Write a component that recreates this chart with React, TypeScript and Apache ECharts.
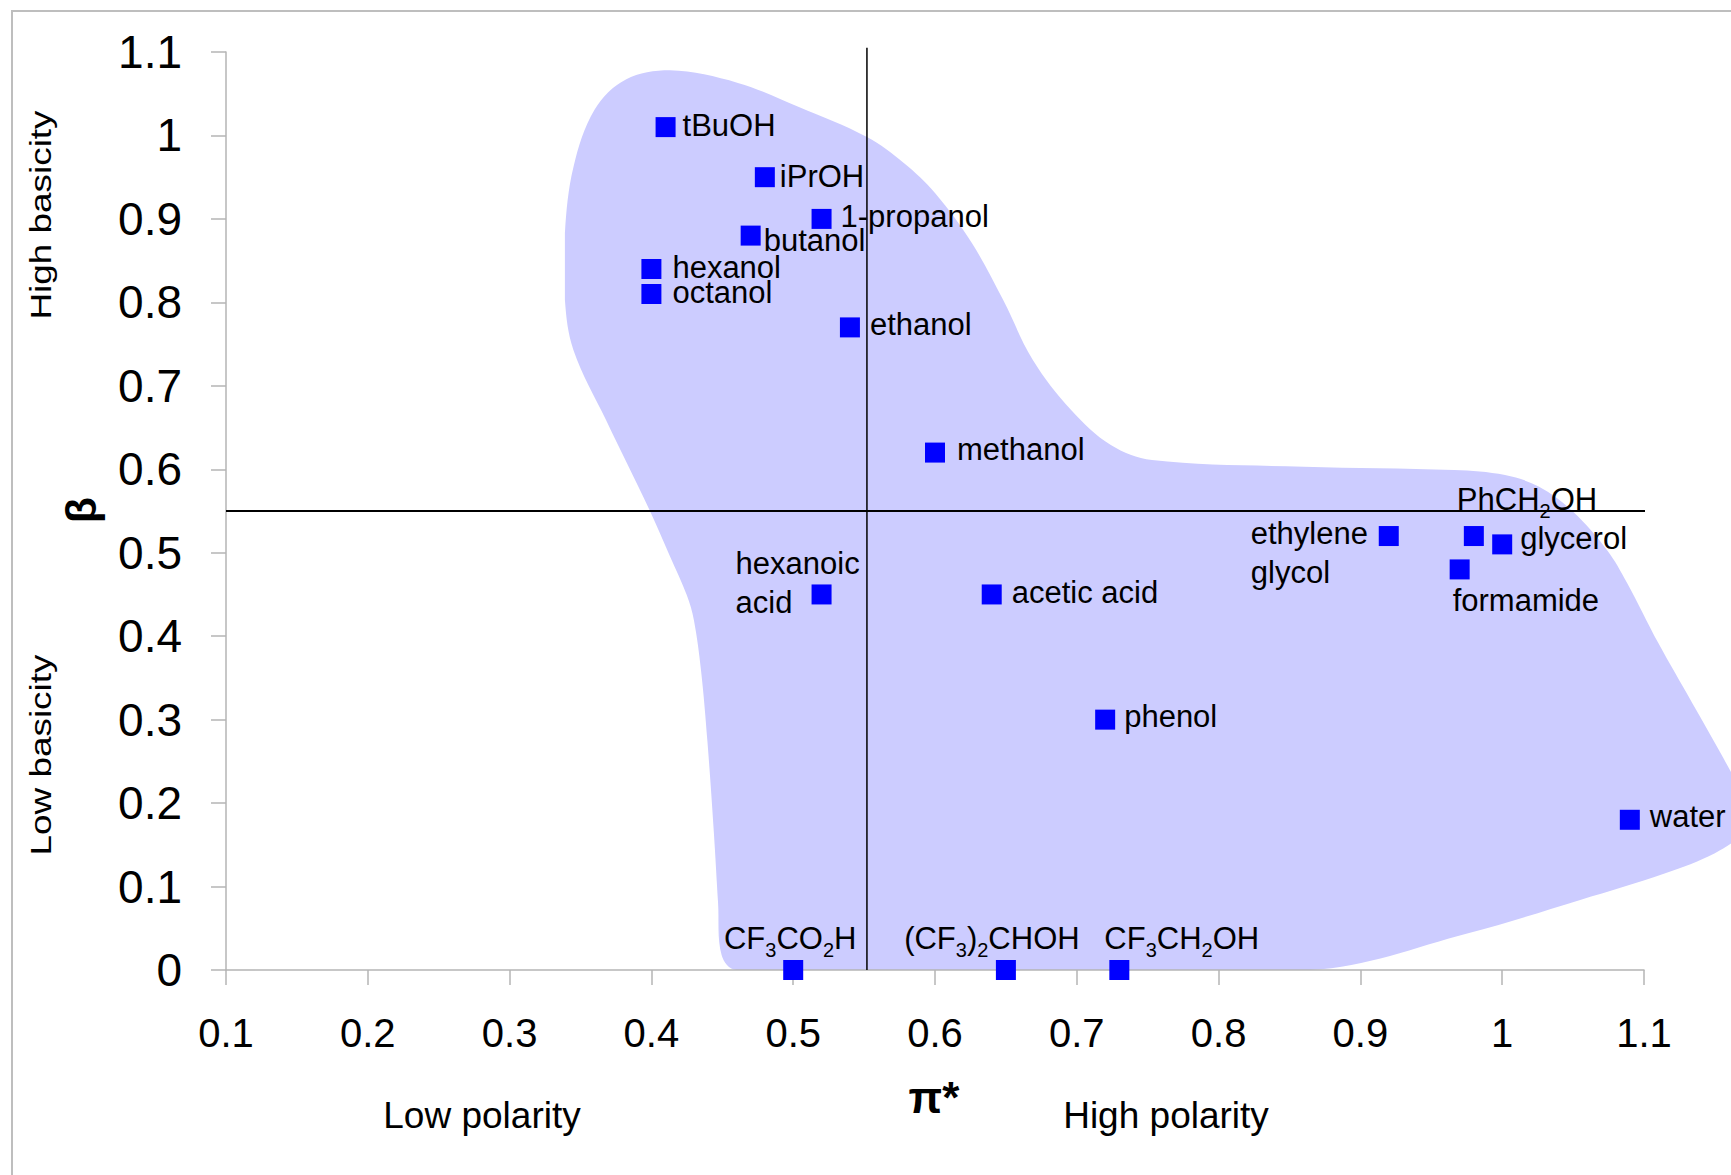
import React, { useEffect, useRef } from 'react';
import * as echarts from 'echarts';

const FONT = "'Liberation Sans', Arial, Helvetica, sans-serif";

// Solvents (rich-text markers {s|..} are subscripts)
const solventNames = [
  'tBuOH', 'iPrOH', '1-propanol', 'butanol', 'hexanol', 'octanol', 'ethanol', 'methanol',
  'hexanoic\nacid', 'acetic acid', 'phenol', 'ethylene\nglycol', 'PhCH{s|2}OH', 'glycerol',
  'formamide', 'water', 'CF{s|3}CO{s|2}H', '(CF{s|3}){s|2}CHOH', 'CF{s|3}CH{s|2}OH',
];
const piStar = [0.41, 0.48, 0.52, 0.47, 0.40, 0.40, 0.54, 0.60, 0.52, 0.64, 0.72, 0.92, 0.98, 1.00, 0.97, 1.09, 0.50, 0.65, 0.73];
const beta = [1.01, 0.95, 0.90, 0.88, 0.84, 0.81, 0.77, 0.62, 0.45, 0.45, 0.30, 0.52, 0.52, 0.51, 0.48, 0.18, 0, 0, 0];

// label placement relative to the marker centre: dx, dy (px), alignment
const labelDx = [17, 15, 19, 13, 21, 21, 20, 22, -86, 20, 19, -138, -17, 18, -7, 20, -3, -14, -15];
const labelDy = [-2, -1, -2, 5, -1, -2, -3, -3, -11, -2, -3, 17, -37, -6, 31, -3, -32, -32, -32];
const labelAlign = ['left', 'left', 'left', 'left', 'left', 'left', 'left', 'left', 'left', 'left', 'left', 'left', 'left', 'left', 'left', 'left', 'center', 'center', 'left'];

// axis ranges
const xRange = [0.1, 1.1];
const yRange = [0, 1.1];
const tickStep = 0.1;

// quadrant divider lines
const hLine = [[0.1, 0.55], [1.109, 0.55]];
const vLine = [[0.552, 0], [0.552, 1.105]];

// shaded region outline (pi*, beta)
const blobOutline = [
  [0.413, 1.078], [0.461, 1.063], [0.504, 1.034], [0.552, 0.998], [0.578, 0.967], [0.600, 0.931],
  [0.626, 0.871], [0.648, 0.803], [0.669, 0.731], [0.696, 0.671], [0.724, 0.629], [0.753, 0.611],
  [0.860, 0.603], [0.966, 0.599], [1.002, 0.593], [1.026, 0.579], [1.050, 0.549], [1.074, 0.503],
  [1.088, 0.464], [1.110, 0.392], [1.134, 0.320], [1.153, 0.263], [1.168, 0.215], [1.174, 0.189],
  [1.168, 0.162], [1.150, 0.140], [1.115, 0.116], [1.055, 0.084], [0.976, 0.044], [0.865, 0.0],
  [0.460, 0.0], [0.4495, 0.018], [0.447, 0.081], [0.444, 0.166], [0.4395, 0.274], [0.435, 0.359],
  [0.430, 0.419], [0.425, 0.449], [0.413, 0.496], [0.399, 0.550], [0.368, 0.659], [0.345, 0.743],
  [0.339, 0.803], [0.339, 0.883], [0.345, 0.962], [0.360, 1.031], [0.382, 1.067],
];

const fmt = (v: number) => String(Math.round(v * 10) / 10);

export default function App() {
  const ref = useRef<HTMLDivElement>(null);
  useEffect(() => {
    const chart = echarts.init(ref.current!, null, { renderer: 'svg' });
    const scatterData = solventNames.map((n, i) => {
      const lbl: any = {
        position: [labelDx[i] + 10, labelDy[i] + 10],
        align: labelAlign[i],
        verticalAlign: 'middle',
        lineHeight: n.includes('\n') ? 39 : 23,
      };
      return { name: n, value: [piStar[i], beta[i]], label: lbl };
    });
    const axisCommon = {
      type: 'value',
      interval: tickStep,
      z: 1,
      splitLine: { show: false },
      axisLine: { show: true, lineStyle: { color: '#b4b4b4', width: 1.5 } },
      axisTick: { show: true, length: 15, lineStyle: { color: '#b4b4b4', width: 1.5 } },
    };
    chart.setOption({
      animation: false,
      backgroundColor: '#ffffff',
      grid: { left: 226, top: 52, width: 1418, height: 918, containLabel: false },
      xAxis: {
        ...axisCommon,
        min: xRange[0],
        max: xRange[1],
        axisLabel: { fontSize: 40, color: '#000', fontFamily: FONT, margin: 43, formatter: fmt },
      },
      yAxis: {
        ...axisCommon,
        min: yRange[0],
        max: yRange[1],
        axisLabel: { fontSize: 46, color: '#000', fontFamily: FONT, margin: 44, formatter: fmt },
      },
      series: [
        {
          type: 'custom',
          coordinateSystem: 'cartesian2d',
          data: [[blobOutline[0][0], blobOutline[0][1]]],
          clip: false,
          silent: true,
          z: 0,
          renderItem: (_params: any, api: any) => {
            const pts = blobOutline.map((p) => api.coord(p));
            let minX = Infinity, minY = Infinity, maxX = -Infinity, maxY = -Infinity;
            pts.forEach((q: number[]) => {
              minX = Math.min(minX, q[0]); maxX = Math.max(maxX, q[0]);
              minY = Math.min(minY, q[1]); maxY = Math.max(maxY, q[1]);
            });
            return {
              type: 'polygon',
              shape: {
                points: pts,
                smooth: 0.35,
                smoothConstraint: [[minX, minY], [maxX, maxY]],
              },
              style: { fill: '#ccccff', stroke: 'none', opacity: 1 },
            };
          },
        },
        {
          type: 'line',
          data: hLine,
          symbol: 'none',
          clip: false,
          silent: true,
          z: 2,
          lineStyle: { color: '#000', width: 2 },
        },
        {
          type: 'line',
          data: vLine,
          symbol: 'none',
          clip: false,
          silent: true,
          z: 2,
          lineStyle: { color: '#000', width: 1.5 },
        },
        {
          type: 'scatter',
          data: scatterData,
          symbol: 'rect',
          symbolSize: 20,
          z: 3,
          silent: true,
          itemStyle: { color: '#0000ff', opacity: 1 },
          label: {
            show: true,
            formatter: (p: any) => p.name,
            fontSize: 31,
            fontFamily: FONT,
            color: '#000',
            rich: {
              s: { fontSize: 20, fontFamily: FONT, color: '#000', padding: [24, 0, 0, 0], verticalAlign: 'middle' },
            },
          },
        },
      ],
      graphic: [
        {
          type: 'rect',
          z: -10,
          silent: true,
          shape: { x: 12, y: 11, width: 1800, height: 1300 },
          style: { fill: 'none', stroke: '#bebebe', lineWidth: 2 },
        },
        {
          type: 'text', x: 41, y: 215, rotation: Math.PI / 2, scaleX: 1.23, silent: true,
          style: { text: 'High basicity', fontSize: 30, fontFamily: FONT, fill: '#000', align: 'center', verticalAlign: 'middle' },
        },
        {
          type: 'text', x: 41, y: 755, rotation: Math.PI / 2, scaleX: 1.23, silent: true,
          style: { text: 'Low basicity', fontSize: 30, fontFamily: FONT, fill: '#000', align: 'center', verticalAlign: 'middle' },
        },
        {
          type: 'text', x: 81, y: 510, rotation: Math.PI / 2, silent: true,
          style: { text: 'β', fontSize: 43, fontWeight: 'bold', fontFamily: FONT, fill: '#000', align: 'center', verticalAlign: 'middle' },
        },
        {
          type: 'text', x: 934, y: 1097, silent: true,
          style: { text: 'π*', fontSize: 44, fontWeight: 'bold', fontFamily: FONT, fill: '#000', align: 'center', verticalAlign: 'middle' },
        },
        {
          type: 'text', x: 482, y: 1115, silent: true,
          style: { text: 'Low polarity', fontSize: 37, fontFamily: FONT, fill: '#000', align: 'center', verticalAlign: 'middle' },
        },
        {
          type: 'text', x: 1166, y: 1115, silent: true,
          style: { text: 'High polarity', fontSize: 37, fontFamily: FONT, fill: '#000', align: 'center', verticalAlign: 'middle' },
        },
      ],
    });
    return () => chart.dispose();
  }, []);
  return (
    <div
      ref={ref}
      style={{ position: 'fixed', left: 0, top: 0, width: 1731, height: 1175, background: '#fff' }}
    />
  );
}
